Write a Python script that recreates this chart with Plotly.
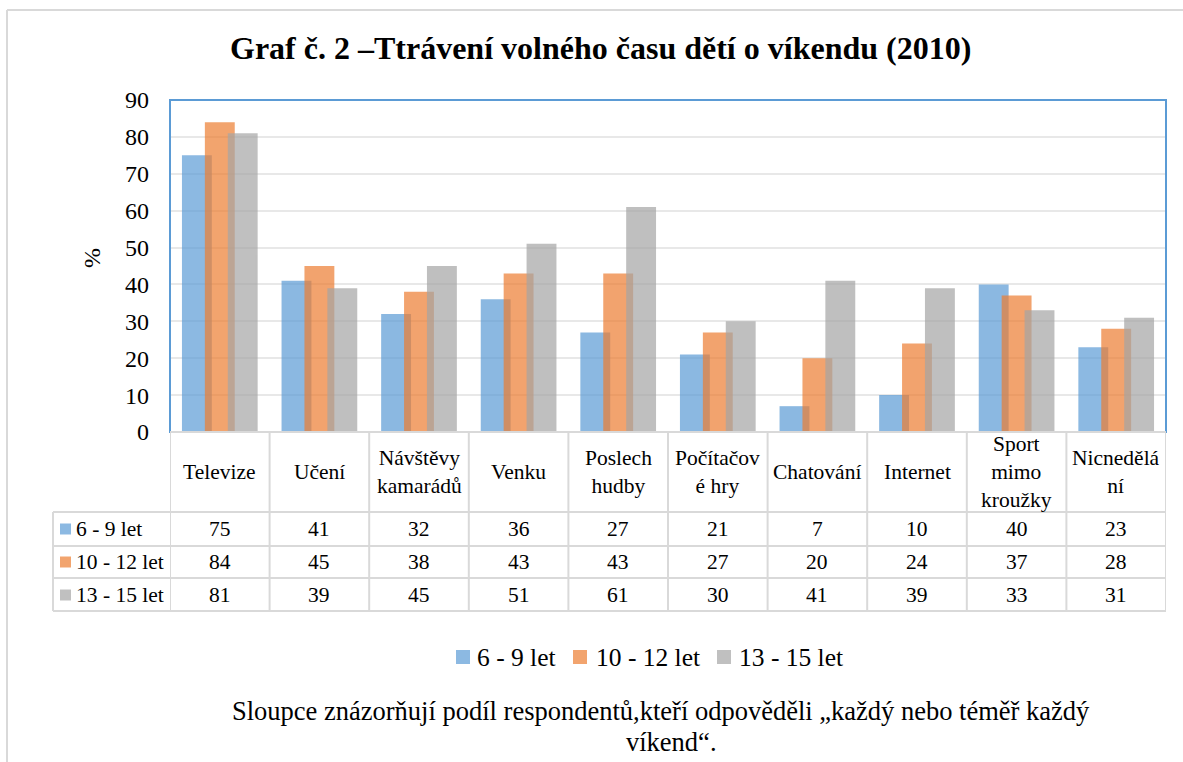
import plotly.graph_objects as go

# ---------------- data ----------------
categories = ["Televize", "Učení", "Návštěvy<br>kamarádů", "Venku", "Poslech<br>hudby",
              "Počítačov<br>é hry", "Chatování", "Internet", "Sport<br>mimo<br>kroužky", "Nicnedělá<br>ní"]
series_names = ["6 - 9 let", "10 - 12 let", "13 - 15 let"]
v_6_9 = [75, 41, 32, 36, 27, 21, 7, 10, 40, 23]
v_10_12 = [84, 45, 38, 43, 43, 27, 20, 24, 37, 28]
v_13_15 = [81, 39, 45, 51, 61, 30, 41, 39, 33, 31]
series_values = [v_6_9, v_10_12, v_13_15]
y_ticks = [0, 10, 20, 30, 40, 50, 60, 70, 80, 90]
title_text = "Graf č. 2 –Ttrávení volného času dětí o víkendu (2010)"
note_line1 = "Sloupce znázorňují podíl respondentů,kteří odpověděli „každý nebo téměř každý"
note_line2 = "víkend“."

# ---------------- styling ----------------
W, H = 1183, 762
colors = ["#5B9BD5", "#ED7D31", "#A5A5A5"]
FONT = "Liberation Serif, Times New Roman, serif"
GRID = "#D9D9D9"
TXT = "#000000"

def PX(x):
    return x / W

def PY(y):
    return 1 - y / H

plot_left, plot_right, plot_top, plot_bottom = 170, 1166, 100, 432
n = len(categories)

fig = go.Figure()
offsets = [-0.23, 0.0, 0.23]
for s, (name, vals) in enumerate(zip(series_names, series_values)):
    fig.add_trace(go.Bar(
        x=[i + offsets[s] for i in range(n)],
        y=vals,
        width=0.30,
        name=name,
        marker=dict(color=colors[s], line=dict(width=0)),
        opacity=0.7,
        showlegend=False,
    ))

shapes = []
annotations = []

# plot-area border (blue)
shapes.append(dict(type="rect", xref="x domain", yref="y domain", x0=0, x1=1, y0=0, y1=1,
                   line=dict(color="#5B9BD5", width=2), layer="above"))

# outer chart border (top & left)
shapes.append(dict(type="line", xref="paper", yref="paper", x0=PX(7), x1=1, y0=PY(10), y1=PY(10),
                   line=dict(color="#D9D9D9", width=2)))
shapes.append(dict(type="line", xref="paper", yref="paper", x0=PX(7), x1=PX(7), y0=PY(10), y1=0,
                   line=dict(color="#D9D9D9", width=2)))

# data table grid
row_lines = [432, 512, 546, 578, 611]
table_left = 53
for k, yy in enumerate(row_lines):
    x0 = PX(plot_left) if k == 0 else PX(table_left)
    shapes.append(dict(type="line", xref="paper", yref="paper", x0=x0, x1=PX(plot_right),
                       y0=PY(yy), y1=PY(yy), line=dict(color=GRID, width=2), layer="above"))
for i in range(n + 1):
    shapes.append(dict(type="line", xref="x", yref="paper", x0=i - 0.5, x1=i - 0.5,
                       y0=PY(432), y1=PY(611), line=dict(color=GRID, width=2)))
shapes.append(dict(type="line", xref="paper", yref="paper", x0=PX(table_left), x1=PX(table_left),
                   y0=PY(512), y1=PY(611), line=dict(color=GRID, width=2)))

# header labels
for i, c in enumerate(categories):
    annotations.append(dict(x=i, y=PY(472), xref="x", yref="paper", text=c, showarrow=False,
                            xanchor="center", yanchor="middle",
                            font=dict(family=FONT, size=21.5, color=TXT)))

# data rows
row_centers = [529, 562, 595]
for s, (name, vals) in enumerate(zip(series_names, series_values)):
    yc = row_centers[s]
    shapes.append(dict(type="rect", xref="paper", yref="paper", x0=PX(60), x1=PX(71),
                       y0=PY(yc + 5.5), y1=PY(yc - 5.5), fillcolor=colors[s], opacity=0.7,
                       line=dict(width=0)))
    annotations.append(dict(x=PX(74), y=PY(yc), xref="paper", yref="paper", text=name,
                            showarrow=False, xanchor="left", yanchor="middle",
                            font=dict(family=FONT, size=21.5, color=TXT)))
    for i, v in enumerate(vals):
        annotations.append(dict(x=i, y=PY(yc), xref="x", yref="paper", text=str(v),
                                showarrow=False, xanchor="center", yanchor="middle",
                                font=dict(family=FONT, size=21.5, color=TXT)))

# legend (drawn manually to match the tight spacing)
legend_sq = [456, 573, 717]
legend_tx = [475, 594, 737]
for s, name in enumerate(series_names):
    shapes.append(dict(type="rect", xref="paper", yref="paper", x0=PX(legend_sq[s]),
                       x1=PX(legend_sq[s] + 14), y0=PY(664), y1=PY(650),
                       fillcolor=colors[s], opacity=0.7, line=dict(width=0)))
    annotations.append(dict(x=PX(legend_tx[s]), y=PY(657), xref="paper", yref="paper", text=name,
                            showarrow=False, xanchor="left", yanchor="middle",
                            font=dict(family=FONT, size=25.5, color=TXT)))

# title
annotations.append(dict(x=PX(601), y=PY(48), xref="paper", yref="paper", text="<b>" + title_text + "</b>",
                        showarrow=False, xanchor="center", yanchor="middle",
                        font=dict(family=FONT, size=32, color=TXT)))
# y-axis title
annotations.append(dict(x=PX(92), y=PY(258), xref="paper", yref="paper", text="%", textangle=-90,
                        showarrow=False, xanchor="center", yanchor="middle",
                        font=dict(family=FONT, size=24, color=TXT)))
# footnote
annotations.append(dict(x=PX(661), y=PY(711), xref="paper", yref="paper", text=note_line1,
                        showarrow=False, xanchor="center", yanchor="middle",
                        font=dict(family=FONT, size=26.5, color=TXT)))
annotations.append(dict(x=PX(671), y=PY(742), xref="paper", yref="paper", text=note_line2,
                        showarrow=False, xanchor="center", yanchor="middle",
                        font=dict(family=FONT, size=26.5, color=TXT)))

fig.update_layout(
    width=W, height=H,
    margin=dict(l=0, r=0, t=0, b=0, pad=0, autoexpand=False),
    paper_bgcolor="white", plot_bgcolor="white",
    barmode="overlay",
    showlegend=False,
    xaxis=dict(domain=[PX(plot_left), PX(plot_right)], range=[-0.5, n - 0.5], automargin=False,
               showticklabels=False, showgrid=False, zeroline=False, showline=False, fixedrange=True),
    yaxis=dict(domain=[PY(plot_bottom), PY(plot_top)], range=[0, 90], tickvals=y_ticks, automargin=False,
               showgrid=True, gridcolor="#E8E8E8", gridwidth=1.5, zeroline=False, showline=False,
               ticks="", ticklabelstandoff=20,
               tickfont=dict(family=FONT, size=24, color=TXT), fixedrange=True),
    shapes=shapes,
    annotations=annotations,
)

fig.write_html("out.html", config={"displayModeBar": False},
               post_script="document.body.style.margin='0';")
